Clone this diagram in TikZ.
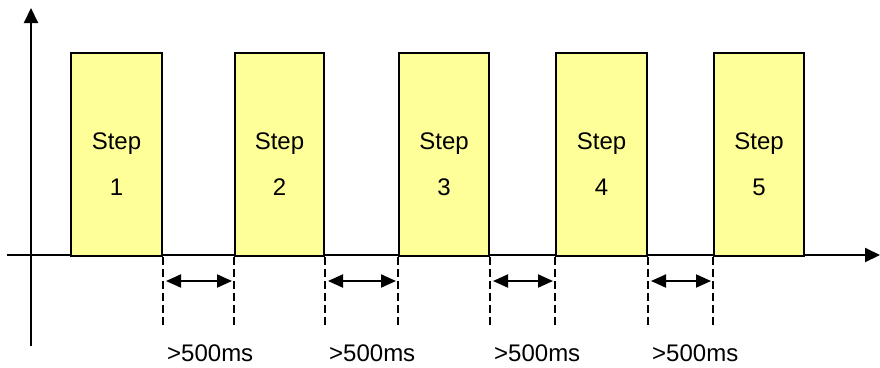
\documentclass[tikz,border=0pt]{standalone}
\usepackage{fontspec}
\setmainfont{Liberation Sans}
\usetikzlibrary{arrows.meta}
\definecolor{boxyellow}{RGB}{255,255,153}
\begin{document}
\begin{tikzpicture}[x=1pt,y=-1pt,
  stepbox/.style={draw=black, line width=2pt, fill=boxyellow, minimum height=203pt, inner sep=0pt, anchor=north west},
  axis/.style={line width=2pt, -{Triangle[length=15pt,width=14pt]}},
  guide/.style={line width=2pt, dash pattern=on 8pt off 4pt},
  gap/.style={line width=2pt, {Triangle[length=15pt,width=13pt]}-{Triangle[length=15pt,width=13pt]}, shorten <=3pt, shorten >=2pt},
  txt/.style={font=\fontsize{24}{28}\selectfont, inner sep=0pt, anchor=base},
  lab/.style={font=\fontsize{24}{28}\selectfont, inner sep=0pt, anchor=base west}]
\useasboundingbox (0,0) rectangle (880,367);
% axes
\coordinate (yb) at (31,346);
\coordinate (yt) at (31,8);
\coordinate (xl) at (7,255);
\coordinate (xr) at (880,255);
\draw[axis] (yb) -- (yt);
\draw[axis] (xl) -- (xr);
% boxes
\node[stepbox, minimum width=91pt] (b1) at (70,52) {};
\node[stepbox, minimum width=89pt] (b2) at (234,52) {};
\node[stepbox, minimum width=90pt] (b3) at (398,52) {};
\node[stepbox, minimum width=91pt] (b4) at (555,52) {};
\node[stepbox, minimum width=90pt] (b5) at (713,52) {};
% box texts
\foreach \b/\n in {b1/1,b2/2,b3/3,b4/4,b5/5}{
  \node[txt] (s\b) at ([yshift=108pt]\b.south) {Step};
  \node[txt] (n\b) at ([yshift=62pt]\b.south) {\n};
}
% guide lines
\foreach \b/\i in {b1/1,b2/3,b3/5,b4/7}{
  \coordinate (d\i) at ([yshift=-68pt]\b.south east);
  \draw[guide] (\b.south east) -- (d\i);
}
\foreach \b/\i in {b2/2,b3/4,b4/6,b5/8}{
  \coordinate (d\i) at ([yshift=-68pt]\b.south west);
  \draw[guide] (\b.south west) -- (d\i);
}
% gap arrows
\foreach \a/\c in {b1/b2,b2/b3,b3/b4,b4/b5}{
  \draw[gap] ([yshift=-24pt]\a.south east) -- ([yshift=-24pt]\c.south west);
}
% labels
\foreach \a/\i in {b1/1,b2/2,b3/3,b4/4}{
  \node[lab] (l\i) at ([xshift=4pt,yshift=-104pt]\a.south east) {>500ms};
}
\end{tikzpicture}
\end{document}
